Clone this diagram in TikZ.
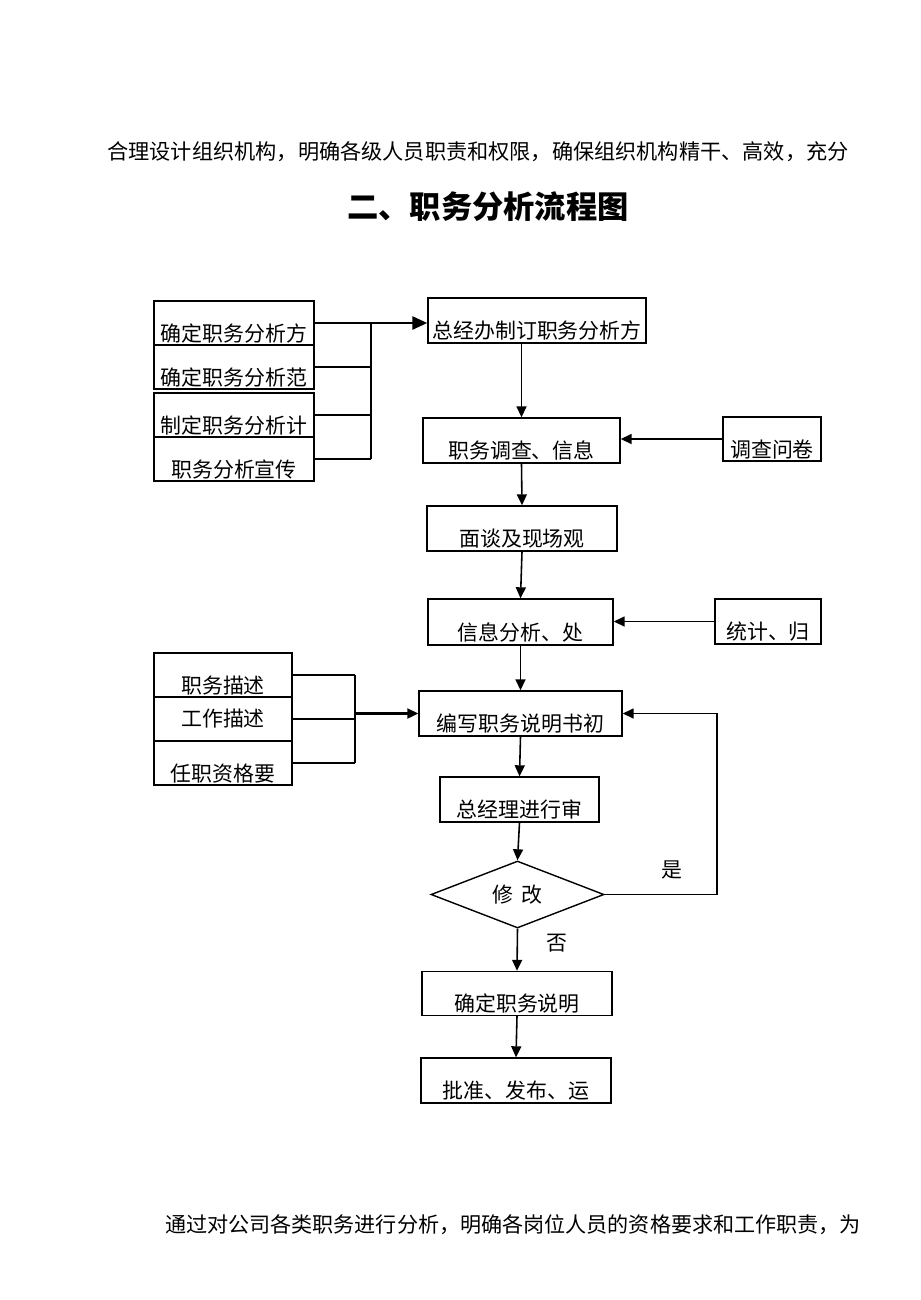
\documentclass[tikz,border=0pt]{standalone}
\usepackage{fontspec}
\newfontfamily\cjk{Noto Sans CJK SC}
\usetikzlibrary{shapes.geometric,arrows.meta}
\newlength\pxu
\setlength\pxu{0.2mm}
\tikzset{
  pane/.style 2 args={draw, line width=0.8pt, inner xsep=0pt, inner ysep=0.6pt,
    minimum width=#1\pxu, minimum height=#2\pxu, font=\cjk\fontsize{11.9}{13}\selectfont},
  lowpane/.style 2 args={pane={#1}{#2}, text height=22.3pt, text depth=1.5pt},
  arr/.style={line width=0.9pt, -{Triangle[length=2.2mm,width=2mm]}},
  bus/.style={line width=1.2pt},
  lbl/.style={font=\cjk\fontsize{11.9}{13}\selectfont, inner sep=0pt}
}
\begin{document}
\begin{tikzpicture}[x=0.2mm, y=-0.2mm]
\useasboundingbox (0,0) rectangle (920,1300);

\node[font=\cjk\fontsize{12.05}{14}\selectfont] (intro) at (478,152)
  {合理设计组织机构，明确各级人员职责和权限，确保组织机构精干、高效，充分};
\node[font=\cjk\bfseries\fontsize{17.8}{20}\selectfont] (title) at (488,207) {二、职务分析流程图};
\node[font=\cjk\fontsize{12}{14}\selectfont] (outro) at (513,1225)
  {通过对公司各类职务进行分析，明确各岗位人员的资格要求和工作职责，为};

\node[lowpane={160}{44}] (m1) at (234,323) {确定职务分析方};
\node[lowpane={160}{44}] (m2) at (234,367) {确定职务分析范};
\node[lowpane={160}{44}] (m3) at (234,415) {制定职务分析计};
\node[lowpane={160}{44}] (m4) at (234,459) {职务分析宣传};
\node[lowpane={218}{45}] (plan) at (537,320.5) {总经办制订职务分析方};
\node[lowpane={197}{45}] (survey) at (521.5,440.5) {职务调查、信息};
\node[lowpane={98}{44}] (quest) at (772,439) {调查问卷};
\node[lowpane={190}{45}] (interview) at (522,528.5) {面谈及现场观};
\node[lowpane={185}{46}] (analysis) at (520.5,622) {信息分析、处};
\node[lowpane={106}{45}] (stat) at (768,621.5) {统计、归};
\node[lowpane={138}{44}] (d1) at (223,675) {职务描述};
\node[pane={138}{44}] (d2) at (223,719) {工作描述};
\node[lowpane={138}{44}] (d3) at (223,763) {任职资格要};
\node[lowpane={203}{45}] (draft) at (520.5,713.5) {编写职务说明书初};
\node[lowpane={159}{45}] (review) at (519.5,799.5) {总经理进行审};
\node[diamond, draw, line width=0.8pt, inner sep=0pt, aspect=2.6, minimum width=173\pxu,
  minimum height=67\pxu, font=\cjk\fontsize{11.9}{13}\selectfont] (decide) at (517.5,894.5) {修\hspace{0.4em}改};
\node[lowpane={190}{44}] (confirm) at (517,993.5) {确定职务说明};
\node[lowpane={190}{45}] (release) at (516,1080.5) {批准、发布、运};
\node[lbl] (yes) at (672,870) {是};
\node[lbl] (no) at (557,943) {否};

\coordinate (busa) at (371,0);
\coordinate (busb) at (355,0);
\coordinate (loop) at (717,0);

\foreach \n in {m1,m2,m3,m4}
  \draw[line width=0.9pt] (\n.east) -- (\n.east -| busa);
\draw[line width=1.5pt] (m1.east -| busa) -- (m4.east -| busa);
\draw[line width=1.6pt, -{Triangle[length=3mm,width=2.6mm]}] (m1.east -| busa) -- (m1.east -| plan.west);
\draw[arr] (plan.south -| survey.north) -- (survey.north);
\draw[arr] (quest.west) -- (quest.west -| survey.east);
\draw[arr] (survey.south) -- (interview.north);
\draw[arr] (interview.south) -- (analysis.north);
\draw[arr] (stat.west) -- (stat.west -| analysis.east);
\draw[arr] (analysis.south) -- (draft.north);
\foreach \n in {d1,d2,d3}
  \draw[bus] (\n.east) -- (\n.east -| busb);
\draw[bus] (d1.east -| busb) -- (d3.east -| busb);
\draw[arr, bus] (draft.west -| busb) -- (draft.west);
\draw[arr] (draft.south) -- (review.north);
\draw[arr] (review.south) -- (decide.north);
\draw[arr] (decide.east) -- (decide.east -| loop) -- (loop |- draft.east) -- (draft.east);
\draw[arr] (decide.south) -- (confirm.north);
\draw[arr] (confirm.south) -- (release.north);
\end{tikzpicture}
\end{document}
